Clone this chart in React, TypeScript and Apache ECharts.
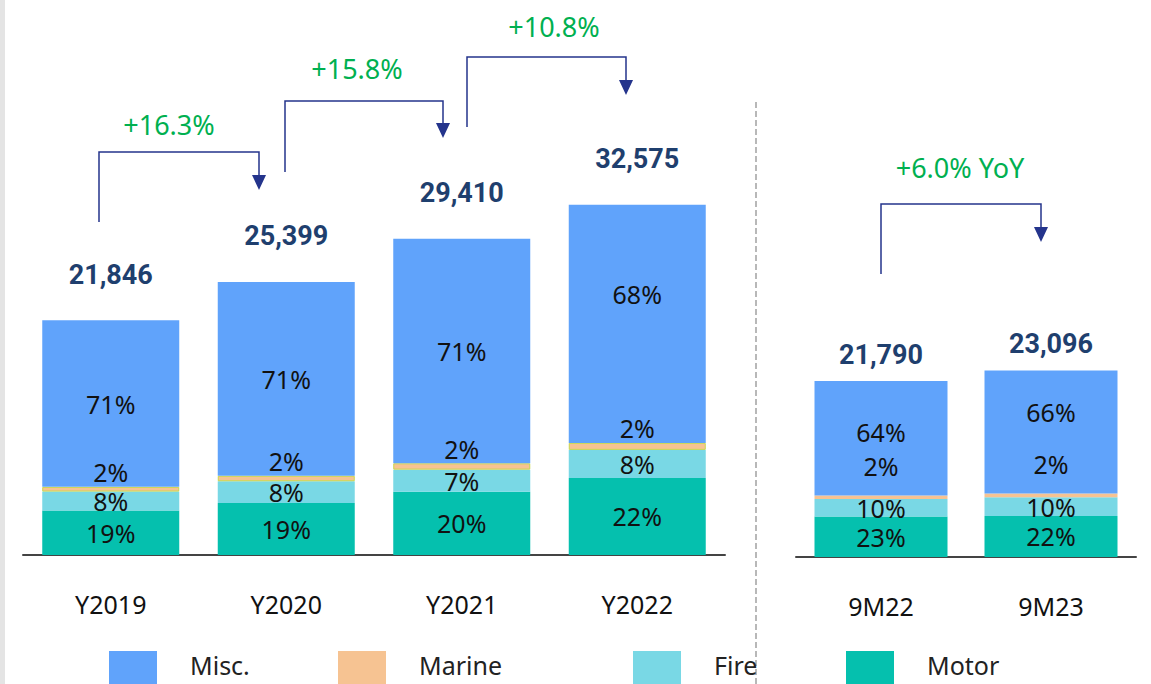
import React, { useEffect, useRef } from 'react';
import * as echarts from 'echarts';

// ---------- Data ----------
const yearCats = ['Y2019', 'Y2020', 'Y2021', 'Y2022'];
const yearTotals = [21846, 25399, 29410, 32575];
const yearMotor = [4150, 4830, 5880, 7170];
const yearFire = [1750, 2030, 2060, 2610];
const yearMarine = [440, 510, 590, 650];
const yearMisc = [15506, 18029, 20880, 22145];
const yearMotorPct = [19, 19, 20, 22];
const yearFirePct = [8, 8, 7, 8];
const yearMarinePct = [2, 2, 2, 2];
const yearMiscPct = [71, 71, 71, 68];

const ytdCats = ['9M22', '9M23'];
const ytdTotals = [21790, 23096];
const ytdMotor = [5010, 5080];
const ytdFire = [2180, 2310];
const ytdMarine = [440, 460];
const ytdMisc = [14160, 15246];
const ytdMotorPct = [23, 22];
const ytdFirePct = [10, 10];
const ytdMarinePct = [2, 2];
const ytdMiscPct = [64, 66];

const yearGrowth = ['+16.3%', '+15.8%', '+10.8%'];
const ytdGrowth = '+6.0% YoY';

// ---------- Styles ----------
const C_MISC = '#60a3fb';
const C_MARINE = '#f6c392';
const C_FIRE = '#79d8e5';
const C_MOTOR = '#05c0ae';
const NAVY = '#1f3f6e';
const ARROW = '#24348c';
const GREEN = '#00b050';
const PCT_FONT = "'Noto Sans', 'Open Sans', sans-serif";
const NUM_FONT = "Roboto, 'Noto Sans', sans-serif";

const yearMiscShift = [0, 0, 0, -30];
const ytdMiscShift = [-6, -20];

function pctLabel(pcts: number[], extra: any = {}) {
  return {
    show: true,
    position: 'inside',
    fontFamily: PCT_FONT,
    fontSize: 25,
    color: '#111',
    formatter: (p: any) => pcts[p.dataIndex] + '%',
    ...extra,
  };
}

function buildSeries(
  idx: number,
  stack: string,
  barWidth: number,
  motor: number[],
  fire: number[],
  marine: number[],
  misc: number[],
  totals: number[],
  motorPct: number[],
  firePct: number[],
  marinePct: number[],
  miscPct: number[],
  miscShift: number[],
  marineDist: number,
  totalDist: number,
  marineBorder: boolean
) {
  const common = { type: 'bar', stack, xAxisIndex: idx, yAxisIndex: idx, barWidth };
  return [
    {
      ...common,
      name: 'Motor',
      data: motor,
      itemStyle: { color: C_MOTOR },
      label: pctLabel(motorPct),
    },
    {
      ...common,
      name: 'Fire',
      data: fire,
      itemStyle: { color: C_FIRE },
      label: pctLabel(firePct),
    },
    {
      ...common,
      name: 'Marine',
      data: marine,
      itemStyle: marineBorder
        ? { color: C_MARINE, borderColor: '#c8d64c', borderWidth: 1 }
        : { color: C_MARINE },
      label: pctLabel(marinePct, { position: 'top', distance: marineDist }),
    },
    {
      ...common,
      name: 'Misc.',
      data: misc.map((v, i) => ({ value: v, label: { offset: [0, miscShift[i]] } })),
      itemStyle: { color: C_MISC },
      label: pctLabel(miscPct),
    },
    {
      ...common,
      name: 'Total' + idx,
      data: totals.map(() => 0),
      itemStyle: { color: 'transparent' },
      label: {
        show: true,
        position: 'top',
        distance: totalDist,
        fontFamily: NUM_FONT,
        fontWeight: 'bold',
        fontSize: 27,
        color: NAVY,
        formatter: (p: any) => totals[p.dataIndex].toLocaleString('en-US'),
      },
    },
  ];
}

function connector(x1: number, yStart: number, yTop: number, x2: number, yTip: number) {
  const head = 15;
  return [
    {
      type: 'polyline',
      shape: { points: [[x1, yStart], [x1, yTop], [x2, yTop], [x2, yTip - head]] },
      style: { stroke: ARROW, lineWidth: 1.5, fill: 'none' },
      silent: true,
    },
    {
      type: 'polygon',
      shape: { points: [[x2 - 7, yTip - head], [x2 + 7, yTip - head], [x2, yTip]] },
      style: { fill: ARROW },
      silent: true,
    },
  ];
}

function growthText(x: number, y: number, text: string) {
  return {
    type: 'text',
    x,
    y,
    style: {
      text,
      fill: GREEN,
      fontSize: 27,
      fontFamily: PCT_FONT,
      textAlign: 'center',
      textVerticalAlign: 'middle',
    },
    silent: true,
  };
}

function legendItem(name: string, left: number) {
  return {
    data: [name],
    left,
    top: 649,
    padding: 0,
    orient: 'horizontal',
    icon: 'rect',
    itemWidth: 48,
    itemHeight: 60,
    itemStyle: { borderWidth: 0 },
    selectedMode: false,
    formatter: (n: string) => n + '\n ',
    textStyle: {
      fontFamily: PCT_FONT,
      fontSize: 25,
      lineHeight: 32,
      color: '#222',
      padding: [0, 0, 0, 28],
    },
  };
}

const axisCommon = {
  type: 'category',
  axisLine: { show: true, lineStyle: { color: '#444', width: 2 } },
  axisTick: { show: false },
  axisLabel: { fontFamily: PCT_FONT, fontSize: 25, color: '#111', margin: 36 },
};

export default function App() {
  const ref = useRef<HTMLDivElement>(null);
  useEffect(() => {
    document.body.style.margin = '0';
    if (!ref.current) return;
    const chart = echarts.init(ref.current, undefined, { renderer: 'svg' });
    const option: any = {
      animation: false,
      backgroundColor: '#ffffff',
      grid: [
        { left: 23, width: 702, top: 125, height: 430 },
        { left: 796, width: 340, top: 234, height: 323 },
      ],
      xAxis: [
        { ...axisCommon, gridIndex: 0, data: yearCats },
        { ...axisCommon, gridIndex: 1, data: ytdCats },
      ],
      yAxis: [
        { type: 'value', gridIndex: 0, min: 0, max: 40000, show: false },
        { type: 'value', gridIndex: 1, min: 0, max: 40000, show: false },
      ],
      legend: [
        legendItem('Misc.', 109),
        legendItem('Marine', 338),
        legendItem('Fire', 633),
        legendItem('Motor', 846),
      ],
      series: [
        ...buildSeries(
          0, 'L', 137,
          yearMotor, yearFire, yearMarine, yearMisc, yearTotals,
          yearMotorPct, yearFirePct, yearMarinePct, yearMiscPct,
          yearMiscShift, 2, 32, true
        ),
        ...buildSeries(
          1, 'R', 133,
          ytdMotor, ytdFire, ytdMarine, ytdMisc, ytdTotals,
          ytdMotorPct, ytdFirePct, ytdMarinePct, ytdMiscPct,
          ytdMiscShift, 17, 13, false
        ),
      ],
      graphic: [
        {
          type: 'rect',
          shape: { x: 0, y: 0, width: 5, height: 684 },
          style: { fill: '#e4e4e4' },
          silent: true,
        },
        {
          type: 'line',
          shape: { x1: 756, y1: 102, x2: 756, y2: 684 },
          style: { stroke: '#b8b8b8', lineWidth: 2, lineDash: [6, 3] },
          silent: true,
        },
        ...connector(99, 222, 152, 259, 190),
        ...connector(285, 172, 101, 443, 138),
        ...connector(467, 127, 57, 626, 95),
        ...connector(881, 274, 204, 1041, 242),
        growthText(169, 124, yearGrowth[0]),
        growthText(357, 68, yearGrowth[1]),
        growthText(554, 26, yearGrowth[2]),
        growthText(960, 167, ytdGrowth),
      ],
    };
    chart.setOption(option);
    return () => chart.dispose();
  }, []);
  return <div ref={ref} style={{ width: 1151, height: 684 }} />;
}
